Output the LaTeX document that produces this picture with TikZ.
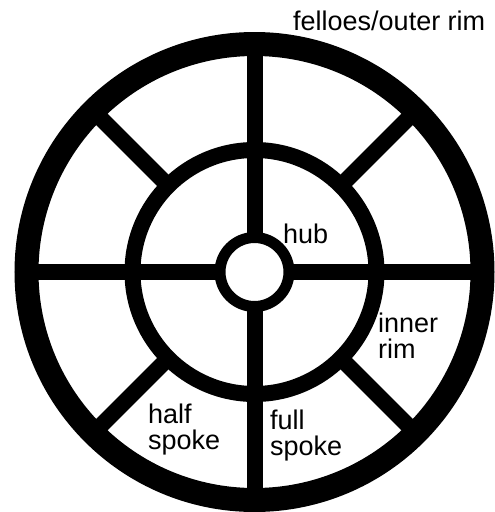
\documentclass[tikz,border=0pt]{standalone}
\usepackage{fontspec}
\setmainfont{Liberation Sans}
\tikzset{
  rim/.style={draw=black},
  spoke/.style={draw=black, line width=16},
  label/.style={inner sep=0pt, align=left, font=\fontsize{27}{26}\selectfont}
}
\begin{document}
\begin{tikzpicture}[x=1pt,y=1pt,yscale=-1,xscale=1]
\useasboundingbox (0,0) rectangle (495,512);
\coordinate (centre) at (254.5,272);
% Straight Lines: full spokes
\draw [spoke, shift={(centre)}] (0,-36) -- (0,-230) ;
\draw [spoke, shift={(centre)}] (0,36) -- (0,230) ;
\draw [spoke, shift={(centre)}] (-36,0) -- (-230,0) ;
\draw [spoke, shift={(centre)}] (36,0) -- (230,0) ;
% Straight Lines: half spokes
\foreach \a in {45,135,225,315}
  \draw [spoke, shift={(centre)}] (\a:122) -- (\a:230) ;
% Shape: Circle (felloes)
\draw [rim, line width=24] (centre) circle (228) ;
% Shape: Circle (inner rim)
\draw [rim, line width=16] (centre) circle (122) ;
% Shape: Circle (hub)
\draw [rim, line width=11] (centre) circle (34.5) ;

% Text Node
\node (felloes) [label, anchor=base west] at (293,30) {felloes/outer rim};
% Text Node
\node (hub) [label, anchor=base west] at (283,243) {hub};
% Text Node
\node (innerrim) [label, anchor=north west] at (378,313) {inner\\rim};
% Text Node
\node (halfspoke) [label, anchor=north west] at (148,404) {half\\spoke};
% Text Node
\node (fullspoke) [label, anchor=north west] at (270,410) {full\\spoke};
\end{tikzpicture}
\end{document}
